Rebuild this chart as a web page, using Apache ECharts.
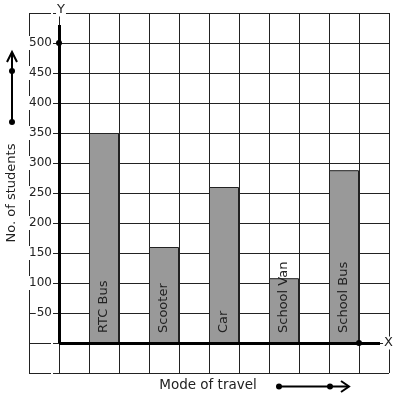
<!DOCTYPE html>
<html>
<head>
<meta charset="utf-8">
<script src="https://cdn.jsdelivr.net/npm/echarts@6/dist/echarts.min.js"></script>
<style>html,body{margin:0;padding:0;background:#fff}#c{width:397px;height:399px}</style>
</head>
<body>
<div id="c"></div>
<script>
// Data
const categories = ['RTC Bus', 'Scooter', 'Car', 'School Van', 'School Bus'];
const students = [350, 160, 260, 108, 288];
const barPositions = [1.5, 3.5, 5.5, 7.5, 9.5];
const yTicks = [50, 100, 150, 200, 250, 300, 350, 400, 450, 500];

const FONT = '"DejaVu Sans", sans-serif';
const ARROW = 'path://M0,100 L50,0 L100,100 L78,100 L50,38 L22,100 Z';

const chart = echarts.init(document.getElementById('c'), null, {renderer: 'canvas'});
chart.setOption({
  animation: false,
  backgroundColor: '#fff',
  grid: {left: 29, top: 13, width: 360, height: 360, containLabel: false, outerBoundsMode: 'none'},
  xAxis: {
    type: 'value', min: -1, max: 11, interval: 1,
    axisLine: {show: false}, axisTick: {show: false}, axisLabel: {show: false},
    splitLine: {show: true, lineStyle: {color: '#222', width: 1}}
  },
  yAxis: {
    type: 'value', min: -50, max: 550, interval: 50,
    position: 'left', offset: -30,
    axisLine: {show: false, onZero: false},
    axisTick: {show: false},
    axisLabel: {
      show: true, fontSize: 12, fontFamily: FONT, color: '#222', margin: 6,
      backgroundColor: '#fff', padding: [1, 1],
      formatter: v => yTicks.indexOf(v) >= 0 ? String(v) : ''
    },
    splitLine: {show: true, lineStyle: {color: '#222', width: 1}}
  },
  series: [{
    type: 'bar',
    barWidth: 30,
    silent: true,
    data: categories.map((c, i) => ({name: c, value: [barPositions[i], students[i]]})),
    itemStyle: {color: '#999999', borderColor: '#222', borderWidth: 1},
    label: {
      show: true, position: 'insideBottom', rotate: 90, align: 'left', verticalAlign: 'middle',
      distance: 10, formatter: '{b}', fontSize: 13, fontFamily: FONT, color: '#222'
    },
    markLine: {
      silent: true, animation: false,
      symbol: ['circle', ARROW], symbolSize: [6, [11, 9]],
      label: {show: false},
      lineStyle: {color: '#000', width: 3, type: 'solid'},
      data: [
        [{coord: [0, 0]}, {coord: [0, 530]}],
        [{coord: [0, 0]}, {coord: [10.7, 0]}]
      ]
    },
    markPoint: {
      silent: true, animation: false,
      symbol: 'circle', symbolSize: 6,
      itemStyle: {color: '#000'}, label: {show: false},
      data: [{coord: [0, 500]}, {coord: [10, 0]}]
    }
  }],
  graphic: [
    {type: 'text', x: 61, y: 10, z: 100, style: {text: 'Y', font: '13px ' + FONT, fill: '#222', align: 'center', verticalAlign: 'middle', backgroundColor: '#fff', padding: [0, 1]}},
    {type: 'text', x: 388.5, y: 343, z: 100, style: {text: 'X', font: '13px ' + FONT, fill: '#222', align: 'center', verticalAlign: 'middle', backgroundColor: '#fff', padding: [0, 1]}},
    {type: 'text', x: 12, y: 193, rotation: Math.PI / 2, style: {text: 'No. of students', font: '13px ' + FONT, fill: '#222', align: 'center', verticalAlign: 'middle'}},
    {type: 'text', x: 208, y: 385, style: {text: 'Mode of travel', font: '13.5px ' + FONT, fill: '#222', align: 'center', verticalAlign: 'middle'}},
    // left decorative arrow
    {type: 'line', shape: {x1: 12, y1: 53, x2: 12, y2: 122}, style: {stroke: '#000', lineWidth: 2}},
    {type: 'polyline', shape: {points: [[7, 62], [12, 52], [17, 62]]}, style: {stroke: '#000', lineWidth: 2, fill: null}},
    {type: 'circle', shape: {cx: 12, cy: 71, r: 3}, style: {fill: '#000'}},
    {type: 'circle', shape: {cx: 12, cy: 122, r: 3}, style: {fill: '#000'}},
    // bottom decorative arrow
    {type: 'line', shape: {x1: 279, y1: 386.5, x2: 348, y2: 386.5}, style: {stroke: '#000', lineWidth: 2}},
    {type: 'polyline', shape: {points: [[341, 381], [349, 386.5], [341, 392]]}, style: {stroke: '#000', lineWidth: 2, fill: null}},
    {type: 'circle', shape: {cx: 279, cy: 386.5, r: 3}, style: {fill: '#000'}},
    {type: 'circle', shape: {cx: 330, cy: 386.5, r: 3}, style: {fill: '#000'}}
  ]
});
</script>
</body>
</html>
